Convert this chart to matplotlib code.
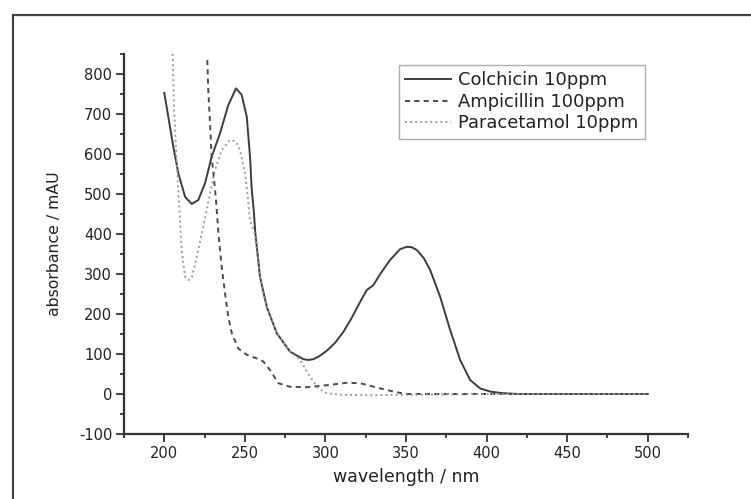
import matplotlib
matplotlib.use("Agg")
import matplotlib.pyplot as plt
from matplotlib.patches import Rectangle
from matplotlib.ticker import MultipleLocator

plt.rcParams['font.family'] = ['DejaVu Sans']
plt.rcParams['axes.unicode_minus'] = False

# ---- data ----
colchicin_wl = [200, 202.5, 205.6, 208.7, 212.9, 217, 221.1, 225.3, 229.4, 234.6,
                239.7, 244.5, 248, 251.2, 253.2, 254.3, 255.5, 256.5, 259.4, 263.6,
                269.8, 278, 286.3, 289.5, 292.5, 296, 300.8, 306, 311.1, 316,
                321.5, 325.7, 329.7, 334, 340.1, 346.3, 350.5, 353.5, 356.7, 361,
                365, 371.2, 377.4, 383.6, 389.8, 396, 402.2, 410.4, 420, 440,
                460, 480, 500]
colchicin_abs = [753, 693, 618, 552, 493, 475, 485, 527, 593, 652,
                 722, 764, 748, 693, 593, 510, 460, 402, 293, 218,
                 152, 106, 87, 85, 87, 94, 108, 128, 155, 188,
                 230, 260, 272, 300, 335, 362, 368, 367, 360, 340,
                 310, 243, 160, 85, 35, 14, 6, 2, 0, 0,
                 0, 0, 0]

ampicillin_wl = [226.7, 227.3, 228.4, 229.4, 230.9, 232.1, 233.6, 235.6, 237.7, 239.7,
                 241.9, 245.9, 251.2, 257.4, 261.5, 265.6, 270.8, 278, 288.4, 300.8,
                 313.2, 321.5, 334, 342.2, 350, 380, 420, 460, 500]
ampicillin_abs = [835, 760, 677, 593, 535, 485, 402, 318, 252, 193,
                  152, 114, 98, 89, 81, 60, 27, 18, 17, 22,
                  28, 27, 14, 6, 0, 0, 0, 0, 0]

paracetamol_wl = [205.2, 206, 207.3, 208.7, 210.8, 212.9, 214.9, 217, 220.1, 224.2,
                  228.4, 231.5, 235.6, 240.8, 244.5, 247, 250.1, 251.8, 253.2, 256.3,
                  259.4, 263.6, 269.8, 278, 284.3, 290.5, 295.6, 300.8, 310, 330,
                  350, 400, 450, 500]
paracetamol_abs = [850, 718, 610, 510, 360, 293, 285, 289, 343, 418,
                   502, 560, 610, 635, 631, 610, 552, 493, 435, 400,
                   293, 218, 152, 106, 85, 43, 14, 2, -2, -3,
                   -2, 0, 0, 0]

labels = ['Colchicin 10ppm', 'Ampicillin 100ppm', 'Paracetamol 10ppm']
x_label = 'wavelength / nm'
y_label = 'absorbance / mAU'

# ---- figure ----
W, H = 751, 499
fig = plt.figure(figsize=(W / 100, H / 100), dpi=100)

# outer frame (extends past right and bottom edges)
fig.patches.append(Rectangle((13 / W, -0.2), 1.2, 1 - 15 / H + 0.2,
                             transform=fig.transFigure, fill=False,
                             edgecolor='#444444', linewidth=1.6, clip_on=False))

left, right, bottom, top = 124 / W, 688 / W, 1 - 434 / H, 1 - 54 / H
ax = fig.add_axes([left, bottom, right - left, top - bottom])

ax.plot(colchicin_wl, colchicin_abs, color='#3c3c3c', lw=1.4, linestyle='-',
        label=labels[0])
ax.plot(ampicillin_wl, ampicillin_abs, color='#4a4a4a', lw=1.4,
        linestyle=(0, (2.6, 2.2)), label=labels[1])
ax.plot(paracetamol_wl, paracetamol_abs, color='#9a9a9a', lw=1.4,
        linestyle=(0, (1, 1.6)), label=labels[2])

ax.set_xlim(175, 525)
ax.set_ylim(-100, 850)
ax.xaxis.set_major_locator(MultipleLocator(50))
ax.xaxis.set_minor_locator(MultipleLocator(25))
ax.yaxis.set_major_locator(MultipleLocator(100))
ax.yaxis.set_minor_locator(MultipleLocator(50))
ax.set_xticks(range(200, 501, 50))

for s in ('top', 'right'):
    ax.spines[s].set_visible(False)
for s in ('left', 'bottom'):
    ax.spines[s].set_color('#333333')
    ax.spines[s].set_linewidth(1.6)

ax.tick_params(which='major', direction='out', length=5.5, width=1.3,
               color='#333333', labelsize=10.5, labelcolor='#222222', pad=3)
ax.tick_params(which='minor', direction='out', length=3, width=1.3,
               color='#333333')

ax.set_xlabel(x_label, fontsize=12.5, color='#222222', labelpad=5)
ax.set_ylabel(y_label, fontsize=11.3, color='#222222', labelpad=12)

leg = ax.legend(loc='upper left', bbox_to_anchor=((399 - 124) / 564, (434 - 65) / 380),
                borderaxespad=0, fontsize=12.9, frameon=True, fancybox=False,
                handlelength=2.55, handletextpad=0.4, labelspacing=0.2,
                borderpad=0.35)
leg.get_frame().set_edgecolor('#9a9a9a')
leg.get_frame().set_linewidth(1.0)
for t in leg.get_texts():
    t.set_color('#222222')

fig.savefig('out.png', dpi=100)
